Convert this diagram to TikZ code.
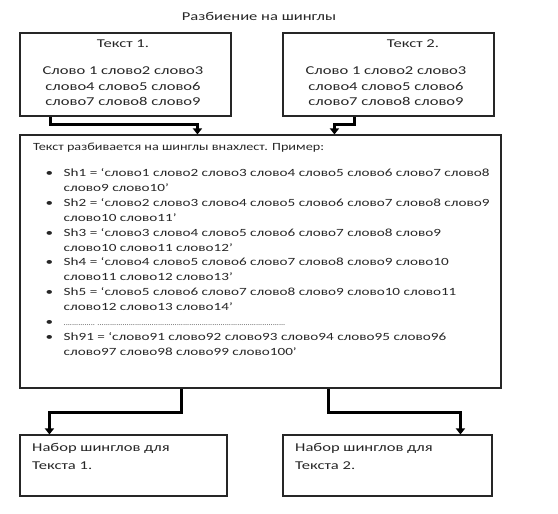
\documentclass[tikz,border=0pt]{standalone}
\usepackage{fontspec}
\setmainfont{Carlito}[FakeStretch=1.38]
\newfontfamily\hfont{Carlito}[FakeStretch=1.29]
\usetikzlibrary{arrows.meta}
\definecolor{ink}{HTML}{262626}
\tikzset{
  boxstyle/.style={draw=ink, line width=1.1pt, inner sep=0pt},
  conn/.style={draw=black, line width=2.6pt, line join=miter, -{Triangle[length=6pt,width=9pt]}},
  txt/.style={inner sep=0pt, text=ink},
}
\begin{document}
\begin{tikzpicture}[x=1pt,y=-1pt]
\useasboundingbox (0,0) rectangle (558,514);
% title
\node[txt, font=\fontsize{12}{14}\selectfont] (title) at (259,16) {Разбиение на шинглы};
% top boxes
\node[boxstyle, minimum width=211pt, minimum height=83pt] (t1) at (125.5,74.5) {};
\node[boxstyle, minimum width=211pt, minimum height=83pt] (t2) at (388.5,74.5) {};
\node[txt, anchor=base, font=\fontsize{12}{15.5}\selectfont] (t1head) at (123,47.5) {Текст 1.};
\node[txt, anchor=base, font=\fontsize{12}{15.5}\selectfont] (t2head) at (413,47.5) {Текст 2.};
\node[txt, anchor=base, font=\fontsize{12}{15.5}\selectfont] (t1body) at (123,74.5)
  {\begin{tabular}[t]{@{}c@{}}Слово 1 слово2 слово3\\ слово4 слово5 слово6\\ слово7 слово8 слово9\end{tabular}};
\node[txt, anchor=base, font=\fontsize{12}{15.5}\selectfont] (t2body) at (386,74.5)
  {\begin{tabular}[t]{@{}c@{}}Слово 1 слово2 слово3\\ слово4 слово5 слово6\\ слово7 слово8 слово9\end{tabular}};
% big box
\node[boxstyle, minimum width=481pt, minimum height=253pt] (big) at (260.5,261.5) {};
\node[txt, anchor=base west, font=\hfont\fontsize{11}{14.9}\selectfont] (bighead) at (33,150.5) {Текст разбивается на шинглы внахлест. Пример:};
\node[txt, anchor=base west, font=\fontsize{11}{14.9}\selectfont] (list) at (45.5,176.5)
  {\begin{tabular}[t]{@{}p{18pt}@{}l@{}}
  • & Sh1 = ‘слово1 слово2 слово3 слово4 слово5 слово6 слово7 слово8\\
    & слово9 слово10’\\
  • & Sh2 = ‘слово2 слово3 слово4 слово5 слово6 слово7 слово8 слово9\\
    & слово10 слово11’\\
  • & Sh3 = ‘слово3 слово4 слово5 слово6 слово7 слово8 слово9\\
    & слово10 слово11 слово12’\\
  • & Sh4 = ‘слово4 слово5 слово6 слово7 слово8 слово9 слово10\\
    & слово11 слово12 слово13’\\
  • & Sh5 = ‘слово5 слово6 слово7 слово8 слово9 слово10 слово11\\
    & слово12 слово13 слово14’\\
  • & {\fontsize{6}{14.9}\selectfont ............... ..........................................................................................}\\
  • & Sh91 = ‘слово91 слово92 слово93 слово94 слово95 слово96\\
    & слово97 слово98 слово99 слово100’
  \end{tabular}};
% bottom boxes
\node[boxstyle, minimum width=207pt, minimum height=61pt] (b1) at (123.5,465.5) {};
\node[boxstyle, minimum width=209pt, minimum height=61pt] (b2) at (387.5,465.5) {};
\node[txt, anchor=base west, font=\fontsize{12}{18}\selectfont] (b1text) at (32,451)
  {\begin{tabular}[t]{@{}l@{}}Набор шинглов для\\ Текста 1.\end{tabular}};
\node[txt, anchor=base west, font=\fontsize{12}{18}\selectfont] (b2text) at (295,451)
  {\begin{tabular}[t]{@{}l@{}}Набор шинглов для\\ Текста 2.\end{tabular}};
% connectors
\draw[conn] ([xshift=31pt]t1.south west) -- ++(0,8) -| ([xshift=178pt]big.north west);
\draw[conn] ([xshift=72pt]t2.south west) -- ++(0,8) -| ([xshift=315pt]big.north west);
\draw[conn] ([xshift=162pt]big.south west) -- ++(0,24) -| ([xshift=30pt]b1.north west);
\draw[conn] ([xshift=309pt]big.south west) -- ++(0,24) -| ([xshift=178pt]b2.north west);
\end{tikzpicture}
\end{document}
